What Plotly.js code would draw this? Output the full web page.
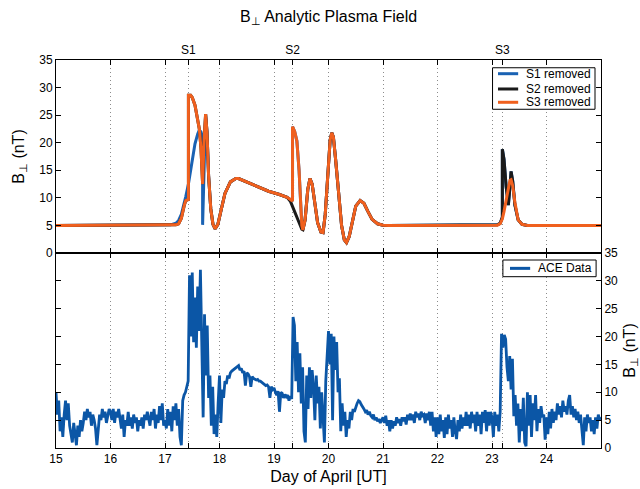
<!DOCTYPE html>
<html><head><meta charset="utf-8">
<script src="https://cdn.plot.ly/plotly-3.0.1.min.js"></script>
<style>html,body{margin:0;padding:0;background:#fff}#plot{width:640px;height:489px}</style>
</head><body><div id="plot"></div>
<script>
// ---- Model (analytic) field: day of April and three series ----
const modelDay = [15.0,17.0,17.1,17.2,17.25,17.3,17.35,17.38,17.43,17.43,17.47,17.5,17.55,17.6,17.63,17.66,17.69,17.69,17.715,17.745,17.77,17.8,17.84,17.88,17.92,17.97,18.03,18.1,18.2,18.3,18.35,18.5,18.7,18.9,19.1,19.24,19.3,19.34,19.34,19.38,19.42,19.46,19.49,19.51,19.53,19.57,19.62,19.66,19.7,19.75,19.8,19.86,19.9,19.94,19.99,20.03,20.06,20.09,20.13,20.18,20.24,20.29,20.33,20.38,20.44,20.5,20.58,20.65,20.72,20.8,20.9,21.0,21.1,23.0,23.1,23.15,23.19,23.19,23.22,23.26,23.3,23.33,23.35,23.38,23.42,23.48,23.55,23.65,25.0];
const s3Removed = [5,5,5.02,5.1,5.3,6.3,8.5,9.5,9.7,28.6,28.6,28.2,26.8,24.5,22.5,19,12.5,12.5,20,25.2,22,14,8,5.2,4.4,5.2,7.8,10.8,12.9,13.5,13.5,12.9,12,11.2,10.6,10.1,9.7,9.45,22.9,22,20.3,15,9,5,4.2,6,11.5,13.5,12.5,9,5.5,3.8,3.7,7,15,20.5,21.8,21,17,11,5,2.4,1.9,3,6,8.5,9.5,9,7.6,6.1,5.3,5.05,5,5,5.05,5.3,6.2,6.2,7.5,9.8,12.2,13.2,13.3,12.2,9.2,6,5.2,5,5];
const s2Removed = [5,5,5.02,5.1,5.3,6.3,8.5,9.5,9.7,28.6,28.6,28.2,26.8,24.5,22.5,19,12.5,12.5,20,25.2,22,14,8,5.2,4.4,5.2,7.8,10.8,12.9,13.5,13.5,12.9,12,11.2,10.6,10.1,9.4,8.4,8.4,7.5,6.2,5.2,4.6,4.3,4.2,6,11.5,13.5,12.5,9,5.5,3.8,3.7,7,15,20.5,21.8,21,17,11,5,2.4,1.9,3,6,8.5,9.5,9,7.6,6.1,5.3,5.05,5,5,5.1,5.4,6.5,18.8,17,12,8.7,12,14.8,13,8.7,6,5.2,5,5];
const s1Removed = [5,5,5.1,5.4,5.9,7.0,8.8,10.2,12.5,12.5,15,17,19.8,21.6,22.3,22,21,5.1,14,25.2,22,14,8,5.2,4.4,5.2,7.8,10.8,12.9,13.5,13.5,12.9,12,11.2,10.6,10.1,9.7,9.45,22.9,22,20.3,15,9,5,4.2,6,11.5,13.5,12.5,9,5.5,3.8,3.7,7,15,20.5,21.8,21,17,11,5,2.4,1.9,3,6,8.5,9.5,9,7.6,6.1,5.3,5.05,5,5,5.1,5.4,6.5,18.8,17,12,8.7,12,14.8,13,8.7,6,5.2,5,5];

// ---- ACE data: sampled every 0.025 day from day 15.0 ----
const aceStart = 15.0, aceStep = 0.025;
const aceDay15 = [10,6,8.5,3,5.5,2,6,8.5,5,8,4,2.5,1,4.5,2,0.5,4,2,5,3,4.5,6.5,5,7,5.5,6.5,4,6,5,3.5,0.5,3,6,5,7,5.5,6.5,4.5,6,7];
const aceDay16 = [6.5,5,7,4.5,6.5,5.5,7,5,3.5,6,2,5,4,6.5,4,5.5,3.5,6,4.5,5.5,3,5,4,5.5,3.5,6,5,6.5,5.5,4,6.5,5,7,3.5,6,4.5,7.5,5,8,4];
const aceDay17 = [5,3.5,7,4,6.5,3,7.5,5,8,4,7,2,0.5,8.5,9.5,10,11,12,31,20,31.5,19,27,18,29,21,32,19,5.5,24,13,22,9,13,4,11,2.5,6,2,8];
const aceDay18 = [13,4.5,10.5,9,12,11.5,13,12.5,13.5,13.8,14,14.2,14.3,14.5,14.8,14,14.3,13.5,13.8,11.2,13.5,13.3,12.8,11,12.8,12.5,12.4,12.2,12.3,12,12,11.8,11.7,11.5,11.2,11.3,11,9,11,10.5];
const aceDay19 = [10.8,10,9.5,10.2,6.5,10,9.8,9,9.6,9.2,9.5,8.5,9.3,8.8,23.5,22,12,19,10,17,8,14.5,3,1,13,7,14.5,9,14,11,5,13,8,11,3.5,10,6,1,12,17];
const aceDay20 = [21,15,20.5,5,20,14,19,10,12.5,3,8,4,6.5,2,5,3.5,6.5,5,7,6.5,7.5,8,8.5,8.3,7.8,7.5,7,6.5,6.8,6,6.5,5.8,5.5,6,5,5.5,4.8,5.2,4.5,5];
const aceDay21 = [5.5,4.5,5.8,4,5,3,5,3.5,4.8,4,5.5,4.5,5.2,4,5.5,4.8,5.5,4.2,6,5,6.2,5,6,4.5,6.5,5.5,6.2,5,6.5,5.8,6,4.5,6.2,5,6.5,4,6.5,3,5.5,2];
const aceDay22 = [5.5,2.5,6,3,5,1.8,5.5,2.5,6,3.5,5,2,5.5,3,1.6,5,3,6,3.5,5.5,4,6.5,4,6,3.5,6.5,4.5,6,3,6.5,4,6,2.5,6.5,4.5,6.8,3,6.5,4,6.5];
const aceDay23 = [5.5,2,6.5,4,6,3,6.5,20.5,18,20.3,19.5,14.5,12,16.5,10.5,16,5.7,9.5,4,8,1,7,3,9,1,0.3,10,4,9.5,2,8,5,9.5,3,7,4.5,7.5,5.5,6,1.5];
const aceDay24 = [5.5,2.5,6.5,3.5,7,4.5,6.5,5,8,6,7.5,5.5,8.5,6.5,7.5,6,8.5,9.5,6,7.5,5.5,7,5,6.5,4.5,6,3.5,0.5,5.5,3,6,4.5,5.5,3,5,2.5,5.5,3.5,6,5,5.5];
const aceValues = [].concat(aceDay15,aceDay16,aceDay17,aceDay18,aceDay19,aceDay20,aceDay21,aceDay22,aceDay23,aceDay24);
const aceDay = aceValues.map((v,i)=>aceStart + i*aceStep);

// ---- Tick labels / legend labels ----
const dayTicks = [15,16,17,18,19,20,21,22,23,24];
const shockDays = [17.43,19.34,23.19];
const shockLabels = ['S1','S2','S3'];
const bTicks = [0,5,10,15,20,25,30,35];
const modelNames = ['S1 removed','S2 removed','S3 removed'];
const aceName = 'ACE Data';

const FONT = 'Liberation Sans, Arial, Helvetica, sans-serif';
const cBlue = '#1a62b3', cBlack = '#1a1a1a', cOrange = '#f0601e', cAce = '#0b56a6';
const modelColors = [cBlue, cBlack, cOrange];

const traces = [
  {x:modelDay, y:s1Removed, name:modelNames[0], type:'scatter', mode:'lines', line:{color:cBlue,width:3}, xaxis:'x', yaxis:'y'},
  {x:modelDay, y:s2Removed, name:modelNames[1], type:'scatter', mode:'lines', line:{color:cBlack,width:3}, xaxis:'x', yaxis:'y'},
  {x:modelDay, y:s3Removed, name:modelNames[2], type:'scatter', mode:'lines', line:{color:cOrange,width:3}, xaxis:'x', yaxis:'y'},
  {x:aceDay, y:aceValues, name:aceName, type:'scatter', mode:'lines', line:{color:cAce,width:2.8}, xaxis:'x2', yaxis:'y2'},
  {x:[15,25], y:[null,null], xaxis:'x3', yaxis:'y', hoverinfo:'skip', type:'scatter', mode:'lines'},
  {x:[15,25], y:[null,null], xaxis:'x4', yaxis:'y2', hoverinfo:'skip', type:'scatter', mode:'lines'}
];

const baseX = {range:[15,25], showline:true, linecolor:'#000', linewidth:1, ticks:'inside', ticklen:5, tickcolor:'#000', mirror:'ticks', zeroline:false,
  showgrid:true, gridcolor:'#8c8c8c', griddash:'1px,3px', gridwidth:1, tickfont:{family:FONT,size:12,color:'#000'}};
const baseY = {range:[0,35], tickvals:bTicks, showline:true, linecolor:'#000', linewidth:1, ticks:'inside', ticklen:5, tickcolor:'#000', mirror:'ticks', zeroline:false, showgrid:false,
  tickfont:{family:FONT,size:12,color:'#000'}, automargin:false};

// ---- Compact legends (boxes, sample lines and labels) ----
const shapes = [], annotations = [];
shapes.push({type:'rect', xref:'paper', yref:'paper', x0:0.801, x1:0.989, y0:0.873, y1:0.980, fillcolor:'#fff', line:{color:'#000',width:1}, layer:'above'});
const legY = [0.9647, 0.9253, 0.891];
modelNames.forEach((n,i)=>{
  shapes.push({type:'line', xref:'paper', yref:'paper', x0:0.811, x1:0.848, y0:legY[i], y1:legY[i], line:{color:modelColors[i],width:3}, layer:'above'});
  annotations.push({xref:'paper', yref:'paper', x:0.859, y:legY[i], xanchor:'left', yanchor:'middle', text:n, showarrow:false, font:{family:FONT,size:12,color:'#000'}});
});
shapes.push({type:'rect', xref:'paper', yref:'paper', x0:0.820, x1:0.991, y0:0.4415, y1:0.4845, fillcolor:'#fff', line:{color:'#000',width:1}, layer:'above'});
shapes.push({type:'line', xref:'paper', yref:'paper', x0:0.833, x1:0.870, y0:0.463, y1:0.463, line:{color:cAce,width:3}, layer:'above'});
annotations.push({xref:'paper', yref:'paper', x:0.881, y:0.463, xanchor:'left', yanchor:'middle', text:aceName, showarrow:false, font:{family:FONT,size:12,color:'#000'}});

const layout = {
  width:640, height:489,
  margin:{l:56, r:39, t:60, b:41},
  paper_bgcolor:'#fff', plot_bgcolor:'#fff',
  font:{family:FONT, color:'#000'},
  showlegend:false,
  title:{text:'B<sub>⊥</sub> Analytic Plasma Field', font:{family:FONT,size:16,color:'#000'}, x:0.5, xanchor:'center', y:0.967, yanchor:'middle', xref:'paper'},
  xaxis: Object.assign({}, baseX, {anchor:'y', tickvals:dayTicks, showticklabels:false}),
  xaxis2: Object.assign({}, baseX, {anchor:'y2', tickvals:dayTicks, showticklabels:true,
    title:{text:'Day of April [UT]', font:{family:FONT,size:16,color:'#000'}, standoff:5}, automargin:false}),
  xaxis3: Object.assign({}, baseX, {overlaying:'x', anchor:'y', side:'top', tickvals:shockDays, ticktext:shockLabels, showticklabels:true}),
  xaxis4: Object.assign({}, baseX, {overlaying:'x2', anchor:'y2', side:'top', tickvals:shockDays, showticklabels:false}),
  yaxis: Object.assign({}, baseY, {domain:[0.5026,1], anchor:'x', side:'left',
    title:{text:'B<sub>⊥</sub> (nT)', font:{family:FONT,size:16,color:'#000'}, standoff:10}}),
  yaxis2: Object.assign({}, baseY, {domain:[0,0.5026], anchor:'x2', side:'right',
    title:{text:'B<sub>⊥</sub> (nT)', font:{family:FONT,size:16,color:'#000'}, standoff:10}}),
  shapes: shapes,
  annotations: annotations
};

Plotly.newPlot('plot', traces, layout, {displayModeBar:false, staticPlot:true});
</script></body></html>
